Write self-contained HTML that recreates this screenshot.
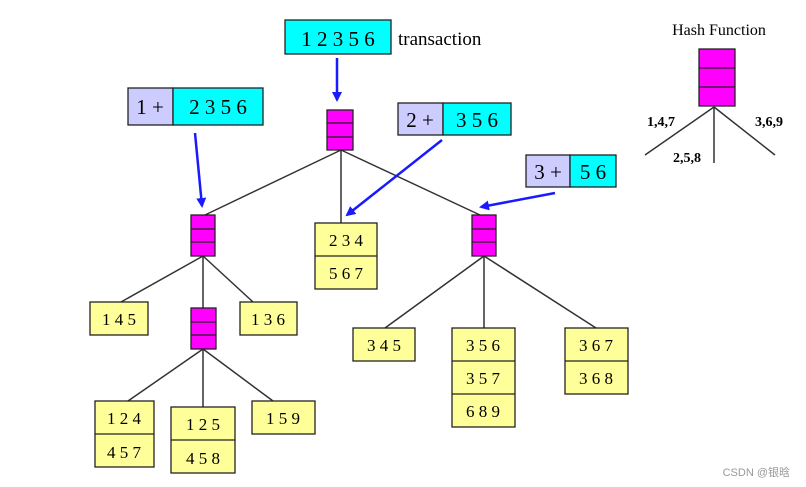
<!DOCTYPE html>
<html><head><meta charset="utf-8"><style>
html,body{margin:0;padding:0;background:#fff;width:806px;height:487px;overflow:hidden}
text{font-family:"Liberation Serif",serif;fill:#000}
</style></head><body>
<svg width="806" height="487" viewBox="0 0 806 487" xmlns="http://www.w3.org/2000/svg">
<defs><marker id="a" markerWidth="10" markerHeight="10" refX="8" refY="5" orient="auto" markerUnits="userSpaceOnUse"><path d="M0,0 L10,5 L0,10 z" fill="#1a1aff"/></marker></defs>
<g stroke="#333" stroke-width="1.5" fill="none">
<line x1="341" y1="150" x2="205" y2="215"/><line x1="341" y1="150" x2="341" y2="223"/><line x1="341" y1="150" x2="480" y2="215"/>
<line x1="203" y1="256" x2="121" y2="302"/><line x1="203" y1="256" x2="203" y2="308"/><line x1="203" y1="256" x2="253" y2="302"/>
<line x1="203" y1="349" x2="128" y2="401"/><line x1="203" y1="349" x2="203" y2="407"/><line x1="203" y1="349" x2="273" y2="401"/>
<line x1="484" y1="256" x2="385" y2="328"/><line x1="484" y1="256" x2="484" y2="328"/><line x1="484" y1="256" x2="596" y2="328"/>
<line x1="714" y1="107" x2="645" y2="155"/><line x1="714" y1="107" x2="714" y2="163"/><line x1="714" y1="107" x2="775" y2="155"/>
</g>
<g stroke="#1a1aff" stroke-width="2.5" marker-end="url(#a)">
<line x1="337" y1="58" x2="337" y2="100"/><line x1="195" y1="133" x2="202" y2="206"/>
<line x1="442" y1="140" x2="347" y2="215"/><line x1="555" y1="193" x2="481" y2="207"/>
</g>
<g stroke="#222" stroke-width="1.3">
<rect x="285" y="20" width="106" height="34" fill="#00ffff"/>
<rect x="128" y="88" width="45" height="37" fill="#ccccff"/><rect x="173" y="88" width="90" height="37" fill="#00ffff"/>
<rect x="398" y="103" width="45" height="32" fill="#ccccff"/><rect x="443" y="103" width="68" height="32" fill="#00ffff"/>
<rect x="526" y="155" width="44" height="32" fill="#ccccff"/><rect x="570" y="155" width="46" height="32" fill="#00ffff"/>
</g>
<g stroke="#222" stroke-width="1.3" fill="#ff00ff">
<rect x="327" y="110" width="26" height="40"/><line x1="327" y1="123" x2="353" y2="123"/><line x1="327" y1="137" x2="353" y2="137"/>
<rect x="191" y="215" width="24" height="41"/><line x1="191" y1="229" x2="215" y2="229"/><line x1="191" y1="242" x2="215" y2="242"/>
<rect x="472" y="215" width="24" height="41"/><line x1="472" y1="229" x2="496" y2="229"/><line x1="472" y1="242" x2="496" y2="242"/>
<rect x="191" y="308" width="25" height="41"/><line x1="191" y1="322" x2="216" y2="322"/><line x1="191" y1="335" x2="216" y2="335"/>
<rect x="699" y="49" width="36" height="57"/><line x1="699" y1="68" x2="735" y2="68"/><line x1="699" y1="87" x2="735" y2="87"/>
</g>
<g stroke="#222" stroke-width="1.3" fill="#ffff99">
<rect x="315" y="223" width="62" height="66"/><line x1="315" y1="256" x2="377" y2="256"/>
<rect x="90" y="302" width="58" height="33"/><rect x="240" y="302" width="57" height="33"/>
<rect x="95" y="401" width="59" height="66"/><line x1="95" y1="434" x2="154" y2="434"/>
<rect x="171" y="407" width="64" height="66"/><line x1="171" y1="440" x2="235" y2="440"/>
<rect x="252" y="401" width="63" height="33"/>
<rect x="353" y="328" width="62" height="33"/>
<rect x="452" y="328" width="63" height="99"/><line x1="452" y1="361" x2="515" y2="361"/><line x1="452" y1="394" x2="515" y2="394"/>
<rect x="565" y="328" width="63" height="66"/><line x1="565" y1="361" x2="628" y2="361"/>
</g>
<g font-size="21" text-anchor="middle">
<text x="338" y="46">1 2 3 5 6</text>
<text x="150" y="114">1 +</text><text x="218" y="114">2 3 5 6</text>
<text x="420" y="127">2 +</text><text x="477" y="127">3 5 6</text>
<text x="548" y="179">3 +</text><text x="593" y="179">5 6</text>
</g>
<text x="398" y="45" font-size="19">transaction</text>
<g font-size="17" text-anchor="middle">
<text x="346" y="246">2 3 4</text><text x="346" y="279">5 6 7</text>
<text x="119" y="325">1 4 5</text><text x="268" y="325">1 3 6</text>
<text x="124" y="424">1 2 4</text><text x="124" y="458">4 5 7</text>
<text x="203" y="430">1 2 5</text><text x="203" y="464">4 5 8</text>
<text x="283" y="424">1 5 9</text>
<text x="384" y="351">3 4 5</text>
<text x="483" y="351">3 5 6</text><text x="483" y="384">3 5 7</text><text x="483" y="417">6 8 9</text>
<text x="596" y="351">3 6 7</text><text x="596" y="384">3 6 8</text>
</g>
<text x="719" y="35" font-size="16" text-anchor="middle">Hash Function</text>
<g font-size="14" font-weight="bold">
<text x="647" y="126">1,4,7</text><text x="755" y="126">3,6,9</text><text x="673" y="162">2,5,8</text>
</g>
<text x="790" y="476" font-size="11" text-anchor="end" style="font-family:'Liberation Sans','Noto Sans CJK SC',sans-serif;fill:#999">CSDN @银晗</text>
</svg>
</body></html>
